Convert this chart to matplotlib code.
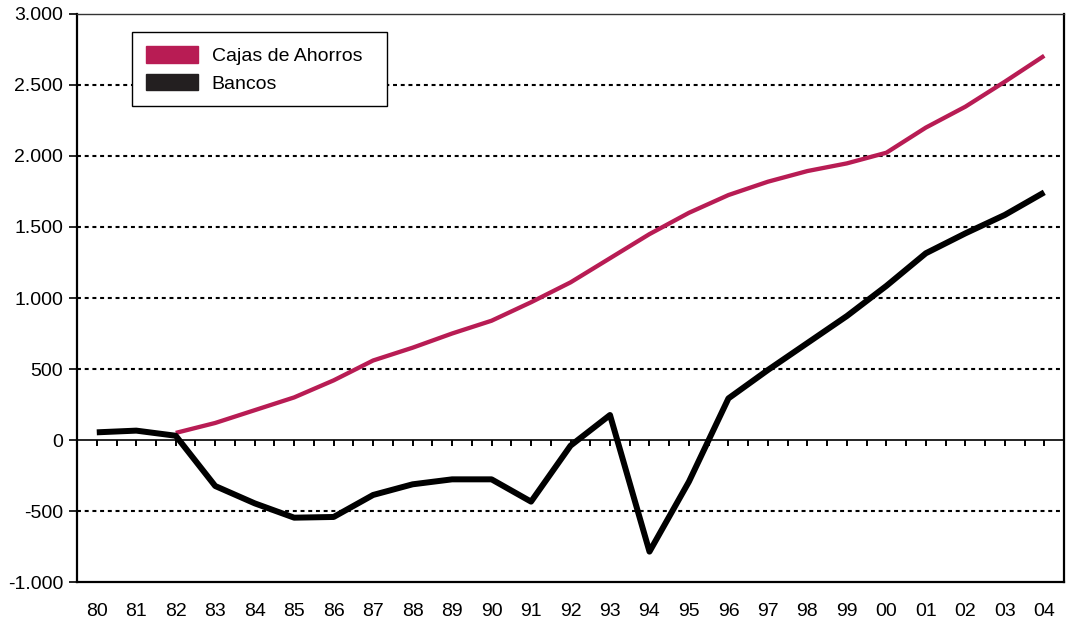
import numpy as np
import matplotlib
matplotlib.use("Agg")
import matplotlib.pyplot as plt
from matplotlib.ticker import FuncFormatter

plt.rcParams['font.family'] = ['Liberation Sans', 'DejaVu Sans']

# Datos
anios = ['80', '81', '82', '83', '84', '85', '86', '87', '88', '89', '90', '91',
         '92', '93', '94', '95', '96', '97', '98', '99', '00', '01', '02', '03', '04']
cajas = [None, None, 50, 120, 210, 300, 420, 560, 650, 750, 840, 970,
         1110, 1280, 1450, 1600, 1725, 1819, 1894, 1948, 2023, 2200, 2347, 2523, 2706]
bancos = [54, 66, 30, -324, -446, -547, -542, -387, -312, -277, -277, -434,
          -40, 176, -786, -293, 293, 493, 683, 873, 1085, 1315, 1455, 1585, 1744]
rejilla = [-500, 500, 1000, 1500, 2000, 2500]

col_cajas = '#B81C54'
col_bancos = '#000000'

x = np.arange(len(anios))
cajas_arr = np.array([np.nan if v is None else v for v in cajas], dtype=float)

fig = plt.figure(figsize=(10.67, 6.22), dpi=100)
ax = fig.add_axes([0.0722, 0.0643, 0.925, 0.9132])

for g in rejilla:
    ax.axhline(g, color='black', lw=1.5, linestyle=(0, (1.9, 1.8)), zorder=1)

ax.plot(x, cajas_arr, color=col_cajas, lw=3.1, solid_capstyle='butt', zorder=3)
ax.plot(x, bancos, color=col_bancos, lw=4.3, solid_capstyle='butt', zorder=4)

ax.set_xlim(-0.5, len(anios) - 0.5)
ax.set_ylim(-1000, 3000)
ax.set_yticks(np.arange(-1000, 3001, 500))
ax.yaxis.set_major_formatter(FuncFormatter(lambda v, p: f"{int(v):,}".replace(',', '.')))
ax.tick_params(axis='y', direction='out', length=6, width=1.2, labelsize=14, pad=4)

# eje horizontal en el cero con marcas hacia abajo
ax.spines['bottom'].set_position(('data', 0))
ax.spines['bottom'].set_linewidth(1.2)
ax.set_xticks(np.arange(0, len(anios) - 0.9, 0.5))
ax.tick_params(axis='x', direction='out', length=4, width=1.4, labelbottom=False)

for s in ['left', 'right']:
    ax.spines[s].set_linewidth(1.6)
ax.spines['top'].set_linewidth(1.0)
ax.spines['top'].set_color('#333333')

# etiquetas de años abajo
sec = ax.secondary_xaxis(0.0)
sec.set_xticks(x)
sec.set_xticklabels(anios)
sec.tick_params(length=0, labelsize=14, pad=15)
sec.spines['bottom'].set_linewidth(1.6)

# leyenda
h1 = plt.Rectangle((0, 0), 1, 1, color=col_cajas)
h2 = plt.Rectangle((0, 0), 1, 1, color='#231F20')
leg = ax.legend([h1, h2], ['Cajas de Ahorros', 'Bancos'], loc='upper left',
                bbox_to_anchor=(0.0557, 0.85, 0.2584, 0.118), mode='expand',
                frameon=True, fancybox=False,
                edgecolor='black', fontsize=14, handlelength=2.7, handleheight=0.95,
                borderpad=0.7, labelspacing=0.45, handletextpad=0.7,
                borderaxespad=0, framealpha=1)
leg.get_frame().set_linewidth(1.0)
leg.set_zorder(5)

fig.savefig('out.png', dpi=100)
